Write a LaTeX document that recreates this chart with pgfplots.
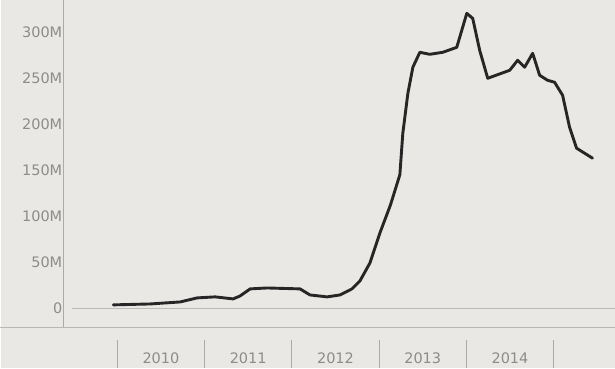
\documentclass[border=0pt]{standalone}
\usepackage{pgfplots}
\pgfplotsset{compat=1.18}
\usepackage{fontspec}
\setmainfont{DejaVu Sans}

\definecolor{paper}{RGB}{234,232,228}
\definecolor{labelgray}{RGB}{140,140,140}
\definecolor{rulegray}{RGB}{170,170,170}
\definecolor{inkline}{RGB}{38,38,38}

\begin{document}
\begin{tikzpicture}
  \fill[paper] (0,0) rectangle (615pt,368pt);
  \begin{axis}[
      at={(63pt,0pt)}, anchor=south west,
      scale only axis,
      width=552pt, height=368pt,
      xmin=2009.382, xmax=2015.698,
      ymin=-65.2, ymax=334.8,
      axis line style={draw=none},
      xtick=\empty,
      ytick={0,50,100,150,200,250,300},
      yticklabels={0,50M,100M,150M,200M,250M,300M},
      major tick length=0pt,
      yticklabel style={anchor=east, inner sep=0pt, xshift=-1pt,
        text=labelgray, font=\fontsize{14.5}{14.5}\selectfont},
      /pgf/number format/assume math mode=true,
      clip=false,
    ]
    % axis furniture
    \draw[rulegray, line width=0.8pt] (axis cs:2009.382,334.8) -- (axis cs:2009.382,-21.7);
    \draw[rulegray!80, line width=0.6pt] (axis cs:2009.48,0) -- (axis cs:2015.698,0);
    \draw[rulegray!85, line width=1pt] (axis cs:2008.661,-21.7) -- (axis cs:2015.698,-21.7);
    \pgfplotsinvokeforeach{2010,2011,2012,2013,2014,2015}{
      \draw[rulegray, line width=0.7pt] (axis cs:#1,-34.8) -- (axis cs:#1,-65.2);
    }
    \pgfplotsinvokeforeach{2010,2011,2012,2013,2014}{
      \node[text=labelgray, font=\fontsize{14.5}{14.5}\selectfont, inner sep=0pt]
        at (axis cs:#1.5,-54.3) {#1};
    }
    \addplot[inkline, line width=2.9pt, line join=round, line cap=round] coordinates {
      (2009.954,3.3) (2010.378,4.3) (2010.721,6.5) (2010.915,10.9)
      (2011.121,12.0) (2011.327,9.8) (2011.407,13.0) (2011.522,20.7)
      (2011.716,21.7) (2012.094,20.7) (2012.208,14.1) (2012.403,12.0)
      (2012.552,14.1) (2012.689,20.7) (2012.780,29.3) (2012.895,48.9)
      (2013.009,81.5) (2013.130,112.0) (2013.238,145.0) (2013.272,190.2)
      (2013.330,233.7) (2013.387,262.0) (2013.467,278.3) (2013.581,276.1)
      (2013.730,278.3) (2013.890,283.7) (2014.005,320.7) (2014.073,315.2)
      (2014.153,280.4) (2014.245,250.0) (2014.497,258.7) (2014.588,269.6)
      (2014.668,262.0) (2014.760,277.2) (2014.840,253.3) (2014.931,247.8)
      (2015.011,245.7) (2015.103,231.5) (2015.183,196.7) (2015.263,173.9)
      (2015.446,163.0)
    };
  \end{axis}
\end{tikzpicture}
\end{document}
